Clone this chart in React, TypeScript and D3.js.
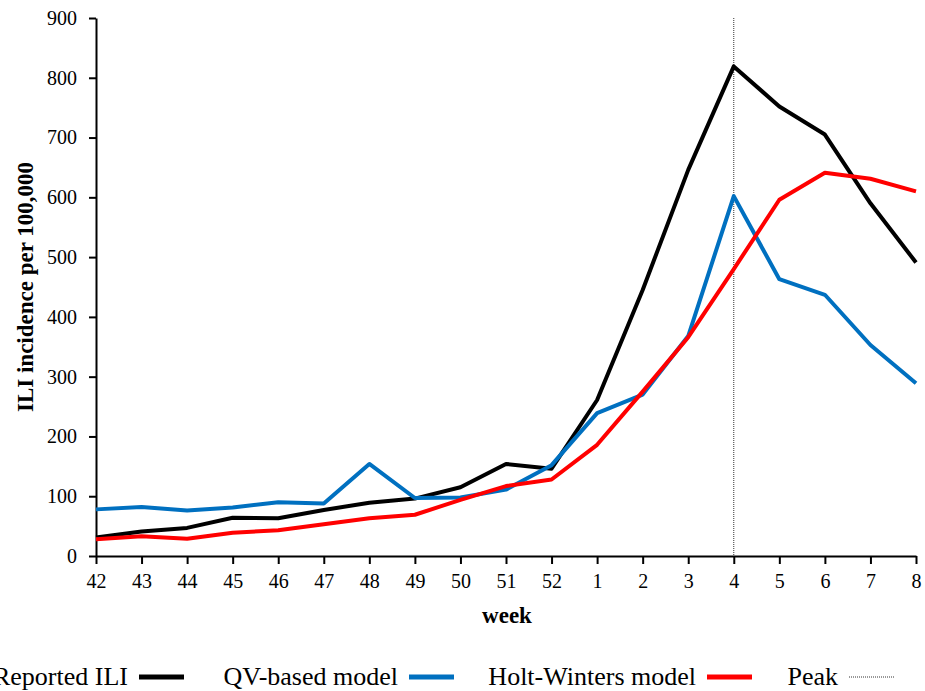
import { useEffect, useRef } from 'react';
import * as d3 from 'd3';

const WEEKS = ['42','43','44','45','46','47','48','49','50','51','52','1','2','3','4','5','6','7','8'];
const REPORTED = [31, 41, 47, 64, 63, 77, 89, 96, 115, 154, 146, 261, 445, 646, 819, 752, 705, 590, 491];
const QV_MODEL = [78, 82, 76, 81, 90, 88, 154, 97, 98, 111, 152, 239, 270, 368, 602, 463, 437, 353, 289];
const HW_MODEL = [28, 33, 29, 39, 43, 53, 63, 69, 94, 117, 128, 186, 275, 366, 480, 596, 641, 631, 610];
const PEAK_WEEK = '4';
const Y_TICKS = [0, 100, 200, 300, 400, 500, 600, 700, 800, 900];

const SERIES = [
  { name: 'Reported ILI', values: REPORTED, color: '#000000' },
  { name: 'QV-based model', values: QV_MODEL, color: '#0070C0' },
  { name: 'Holt-Winters model', values: HW_MODEL, color: '#FF0000' },
];

const FONT = "'Liberation Serif', 'Times New Roman', Times, 'DejaVu Serif', serif";

export default function App() {
  const svgRef = useRef<SVGSVGElement>(null);

  useEffect(() => {
    if (!svgRef.current) return;
    const svg = d3.select(svgRef.current);
    svg.selectAll('*').remove();

    const W = 925, H = 691;
    const margin = { top: 18, right: 9, bottom: 135, left: 96 };
    const width = W - margin.left - margin.right;
    const height = H - margin.top - margin.bottom;

    svg.attr('width', W).attr('height', H).style('font-family', FONT);
    const g = svg.append('g').attr('transform', `translate(${margin.left},${margin.top})`);

    const x = d3.scalePoint<string>().domain(WEEKS).range([0, width]);
    const y = d3.scaleLinear().domain([0, 900]).range([height, 0]);

    // peak marker
    g.append('line')
      .attr('x1', x(PEAK_WEEK)!).attr('x2', x(PEAK_WEEK)!)
      .attr('y1', y(900)).attr('y2', height)
      .attr('stroke', '#333').attr('stroke-width', 1).attr('stroke-dasharray', '1,1');

    // axes
    g.append('g')
      .attr('transform', `translate(0,${height})`)
      .call(d3.axisBottom(x).tickSizeOuter(0).tickSizeInner(8).tickPadding(10))
      .attr('font-family', null)
      .call(a => a.select('.domain').attr('stroke', '#000').attr('stroke-width', 2))
      .call(a => a.selectAll('.tick line').attr('stroke', '#000').attr('stroke-width', 2))
      .call(a => a.selectAll('text').attr('fill', '#000').style('font-size', '20px').style('font-family', FONT));

    g.append('g')
      .call(d3.axisLeft(y).tickValues(Y_TICKS).tickSizeOuter(0).tickSizeInner(7).tickPadding(12))
      .attr('font-family', null)
      .call(a => a.select('.domain').attr('stroke', '#000').attr('stroke-width', 2))
      .call(a => a.selectAll('.tick line').attr('stroke', '#000').attr('stroke-width', 2))
      .call(a => a.selectAll('text').attr('fill', '#000').style('font-size', '20px').style('font-family', FONT));

    // series lines
    const line = d3.line<number>()
      .x((_, i) => x(WEEKS[i])!)
      .y(d => y(d));

    SERIES.forEach(s => {
      g.append('path').datum(s.values)
        .attr('fill', 'none').attr('stroke', s.color)
        .attr('stroke-width', 4).attr('stroke-linejoin', 'round')
        .attr('d', line);
    });

    // axis titles
    svg.append('text')
      .attr('transform', `translate(33,${margin.top + height / 2}) rotate(-90)`)
      .attr('text-anchor', 'middle')
      .style('font-family', FONT).style('font-weight', 'bold').style('font-size', '23px')
      .text('ILI incidence per 100,000');

    svg.append('text')
      .attr('x', 507).attr('y', 623)
      .attr('text-anchor', 'middle')
      .style('font-family', FONT).style('font-weight', 'bold').style('font-size', '23px')
      .text('week');

    // legend
    const legY = 677;
    const legend = [
      { name: 'Reported ILI', textEnd: 128, color: '#000000', dotted: false },
      { name: 'QV-based model', textEnd: 398, color: '#0070C0', dotted: false },
      { name: 'Holt-Winters model', textEnd: 696, color: '#FF0000', dotted: false },
      { name: 'Peak', textEnd: 838, color: '#333', dotted: true },
    ];
    legend.forEach(l => {
      svg.append('text')
        .attr('x', l.textEnd).attr('y', legY + 8)
        .attr('text-anchor', 'end')
        .style('font-family', FONT).style('font-size', '26px').attr('fill', '#000')
        .text(l.name);
      svg.append('line')
        .attr('x1', l.textEnd + 11).attr('x2', l.textEnd + 56)
        .attr('y1', legY).attr('y2', legY)
        .attr('stroke', l.color)
        .attr('stroke-width', l.dotted ? 1 : 5)
        .attr('stroke-dasharray', l.dotted ? '1,1' : null);
    });
  }, []);

  return (
    <div style={{ position: 'absolute', left: 0, top: 0, width: 925, height: 691, background: '#fff' }}>
      <svg ref={svgRef} style={{ display: 'block' }} />
    </div>
  );
}
